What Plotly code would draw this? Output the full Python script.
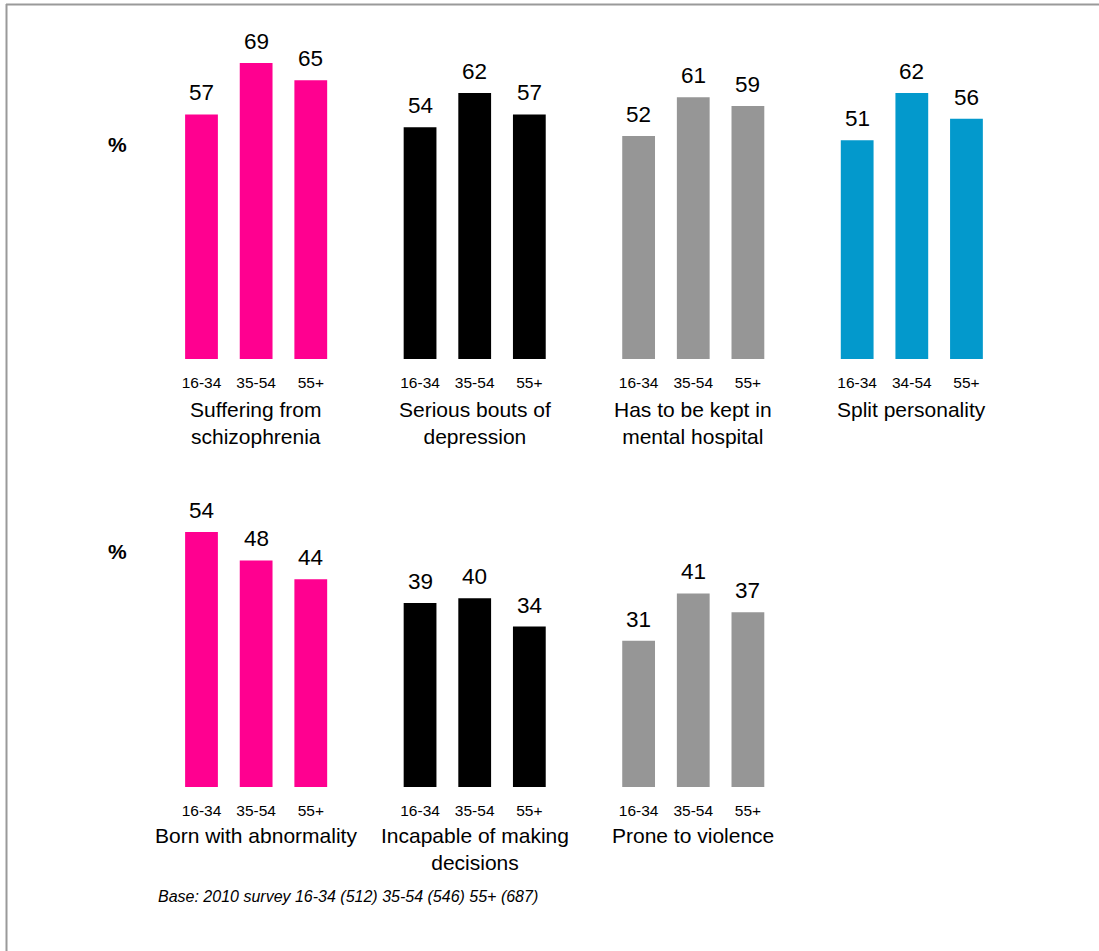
import plotly.graph_objects as go

# Survey results: % agreeing, by age band
categories_top = ["Suffering from<br>schizophrenia", "Serious bouts of<br>depression",
                  "Has to be kept in<br>mental hospital", "Split personality"]
ages_top = [["16-34", "35-54", "55+"], ["16-34", "35-54", "55+"],
            ["16-34", "35-54", "55+"], ["16-34", "34-54", "55+"]]
values_top = [[57, 69, 65], [54, 62, 57], [52, 61, 59], [51, 62, 56]]

categories_bottom = ["Born with abnormality", "Incapable of making<br>decisions", "Prone to violence"]
ages_bottom = [["16-34", "35-54", "55+"], ["16-34", "35-54", "55+"], ["16-34", "35-54", "55+"]]
values_bottom = [[54, 48, 44], [39, 40, 34], [31, 41, 37]]

group_colors = ["#FF0090", "#000000", "#969696", "#0399CC"]
footnote = "Base: 2010 survey 16-34 (512) 35-54 (546) 55+ (687)"

FONT = "Arial, Liberation Sans, sans-serif"
W, H = 1099, 951
GROUP_STEP = 4


def px_y(p):
    return 1 - p / H


fig = go.Figure()
annotations = []


def add_row(cats, ages, vals, xa, ya, y_paper_label):
    tickvals, ticktext = [], []
    for g, (cat, age, v) in enumerate(zip(cats, ages, vals)):
        xs = [GROUP_STEP * g + i for i in range(len(v))]
        fig.add_trace(go.Bar(
            x=xs, y=v, width=0.6, marker=dict(color=group_colors[g], line=dict(width=0)),
            xaxis=xa, yaxis=ya, showlegend=False, hoverinfo="skip"))
        tickvals += xs
        ticktext += age
        for xv, yv in zip(xs, v):
            annotations.append(dict(
                x=xv, y=yv, xref=xa, yref=ya, text=str(yv), showarrow=False,
                yanchor="bottom", yshift=7, font=dict(family=FONT, size=22.5, color="#000")))
        annotations.append(dict(
            x=xs[1], y=y_paper_label, xref=xa, yref="paper", text=cat, showarrow=False,
            yanchor="top", font=dict(family=FONT, size=21, color="#000")))
    return tickvals, ticktext


tv_top, tt_top = add_row(categories_top, ages_top, values_top, "x", "y", px_y(396))
tv_bot, tt_bot = add_row(categories_bottom, ages_bottom, values_bottom, "x2", "y2", px_y(822))

# percent markers
for yp in (145, 551):
    annotations.append(dict(x=117 / W, y=px_y(yp), xref="paper", yref="paper", text="<b>%</b>",
                            xanchor="center", yanchor="middle",
                            showarrow=False, font=dict(family=FONT, size=21, color="#000")))

annotations.append(dict(x=156 / W, y=px_y(896), xref="paper", yref="paper", text="<i>" + footnote + "</i>",
                        showarrow=False, xanchor="left", yanchor="middle",
                        font=dict(family=FONT, size=16, color="#000")))

unit = 54.64
x0 = 201.5
xr = [-3, 16]
xdom = [(x0 + xr[0] * unit) / W, (x0 + xr[1] * unit) / W]

axis_x = dict(range=xr, domain=xdom, showgrid=False, zeroline=False, showline=False,
              ticks="", ticklabelstandoff=12, tickfont=dict(family=FONT, size=15.5, color="#000"))
axis_y = dict(showgrid=False, zeroline=False, showline=False, showticklabels=False, ticks="")

fig.update_layout(
    width=W, height=H, margin=dict(l=0, r=0, t=0, b=0),
    paper_bgcolor="white", plot_bgcolor="white",
    xaxis=dict(axis_x, anchor="y", tickvals=tv_top, ticktext=tt_top),
    yaxis=dict(axis_y, range=[0, 80], domain=[px_y(359), px_y(359 - 80 * 4.29)], anchor="x"),
    xaxis2=dict(axis_x, anchor="y2", tickvals=tv_bot, ticktext=tt_bot),
    yaxis2=dict(axis_y, range=[0, 60], domain=[px_y(787), px_y(787 - 60 * 4.72)], anchor="x2"),
    annotations=annotations,
    shapes=[
        dict(type="line", xref="paper", yref="paper", x0=6 / W, x1=1, y0=px_y(4.5), y1=px_y(4.5),
             line=dict(color="#9A9A9A", width=2)),
        dict(type="line", xref="paper", yref="paper", x0=6.5 / W, x1=6.5 / W, y0=0, y1=px_y(4),
             line=dict(color="#9A9A9A", width=2)),
    ],
)

fig.write_html("out.html")
